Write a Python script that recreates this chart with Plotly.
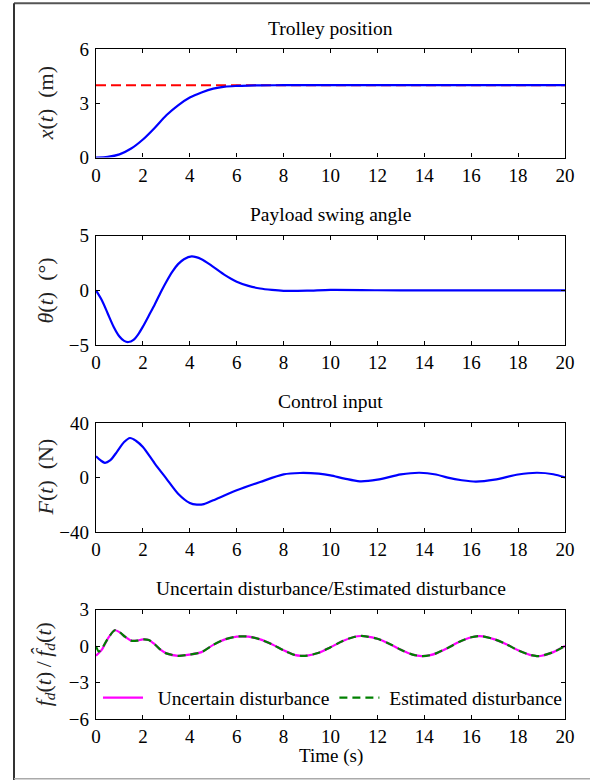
import plotly.graph_objects as go
from plotly.subplots import make_subplots

# ---------------- data ----------------
t_x = [0, 0.5, 1, 1.5, 2, 2.5, 3, 3.5, 4, 4.5, 5, 5.5, 6, 6.5, 7, 8, 10, 12, 14, 16, 18, 20]
x_pos = [0, 0.04, 0.18, 0.5, 1.0, 1.64, 2.34, 2.89, 3.32, 3.6, 3.81, 3.92, 3.96, 3.98, 3.99, 4.0, 4.0, 4.0, 4.0, 4.0, 4.0, 4.0]
x_ref_t = [0, 20]
x_ref = [4, 4]

t_th = [0, 0.25, 0.5, 0.75, 1.0, 1.2, 1.38, 1.6, 1.8, 2.0, 2.25, 2.5, 2.8, 3.0, 3.25, 3.5, 3.75, 4.08,
        4.5, 5.0, 5.5, 6.0, 6.5, 7.0, 7.5, 8.0, 9.0, 10.0, 12.0, 14.0, 16.0, 18.0, 20.0]
theta = [0, -0.9, -2.1, -3.3, -4.2, -4.6, -4.7, -4.5, -4.0, -3.3, -2.3, -1.3, 0.0, 0.8, 1.7, 2.4, 2.85, 3.1,
         2.85, 2.15, 1.4, 0.8, 0.42, 0.18, 0.05, -0.03, -0.02, 0.05, 0.02, 0.0, 0.01, 0.0, 0.0]

t_F = [0, 0.2, 0.38, 0.6, 0.9, 1.2, 1.45, 1.7, 2.0, 2.5, 3.0, 3.5, 4.0, 4.3, 4.6, 5.0, 6.0, 7.0, 8.0, 8.7,
       9.5, 10.0, 10.6, 11.25, 12.0, 13.0, 13.8, 14.5, 15.0, 15.6, 16.2, 17.0, 18.0, 18.8, 19.5, 20.0]
force = [15.6, 12.5, 10.8, 12.5, 19.0, 26.0, 29.0, 27.0, 22.4, 10.4, -0.8, -11.9, -18.7, -19.9, -19.5, -16.7, -9.4, -3.3, 2.3, 3.3,
         2.8, 1.6, -0.8, -2.8, -1.6, 2.3, 3.5, 2.2, -0.1, -2.0, -3.0, -1.6, 2.2, 3.5, 2.4, 0.0]

t_d = [0, 0.25, 0.5, 0.8, 1.0, 1.25, 1.5, 1.75, 2.0, 2.25, 2.5, 2.75, 3.0, 3.5, 4.0, 4.5, 5.0, 5.5, 6.0, 6.25,
       6.5, 7.0, 7.5, 8.0, 8.5, 8.75, 9.0, 9.5, 10.0, 10.5, 11.0, 11.3, 11.5, 12.0, 12.5, 13.0, 13.5, 13.9,
       14.25, 14.5, 15.0, 15.5, 16.0, 16.3, 16.5, 17.0, 17.5, 18.0, 18.5, 18.8, 19.0, 19.5, 20.0]
dist = [-0.8, -0.3, 0.6, 1.3, 1.15, 0.75, 0.45, 0.45, 0.55, 0.5, 0.15, -0.3, -0.6, -0.8, -0.7, -0.5, 0.1, 0.55, 0.78, 0.8,
        0.78, 0.55, 0.15, -0.35, -0.75, -0.8, -0.78, -0.55, -0.1, 0.4, 0.75, 0.83, 0.8, 0.6, 0.2, -0.3, -0.7, -0.82,
        -0.75, -0.6, -0.15, 0.35, 0.72, 0.82, 0.8, 0.55, 0.15, -0.35, -0.72, -0.82, -0.8, -0.5, 0.0]
t_e = [0, 0.12, 0.25] + t_d[2:]
est = [0.0, -0.45, -0.2] + dist[2:]

titles = ["Trolley position", "Payload swing angle", "Control input",
          "Uncertain disturbance/Estimated disturbance"]
ylabels = ["<i>x</i>(<i>t</i>)\u00a0\u00a0(m)", "<i>θ</i>(<i>t</i>)\u00a0\u00a0(°)", "<i>F</i>(<i>t</i>)\u00a0\u00a0(N)",
           "<i>f<sub>d</sub></i>(<i>t</i>)\u2009/\u2009<i>f\u0302<sub>d</sub></i>(<i>t</i>)"]
y_ranges = [[0, 6], [-5, 5], [-40, 40], [-6, 3]]
y_ticks = [[0, 3, 6], [-5, 0, 5], [-40, 0, 40], [-6, -3, 0, 3]]
x_ticks = list(range(0, 21, 2))
legend_names = ["\u00a0\u00a0Uncertain disturbance", "\u00a0Estimated disturbance"]

# ---------------- layout geometry (pixels) ----------------
W, H = 590, 780
L, R, T, B = 96, 565, 48.7, 718.7
panels = [(48.7, 157.3), (235.3, 345.0), (422.7, 531.7), (609.3, 718.7)]
ph = B - T
pw = R - L

def py(y):
    return (B - y) / ph

def px(x):
    return (x - L) / pw

FONT = "Liberation Serif, Times New Roman, DejaVu Serif, serif"

fig = make_subplots(rows=4, cols=1)

fig.add_trace(go.Scatter(x=x_ref_t, y=x_ref, mode="lines", line=dict(color="red", width=2, dash="10px,5px"),
                         showlegend=False), row=1, col=1)
fig.add_trace(go.Scatter(x=t_x, y=x_pos, mode="lines", line=dict(color="blue", width=2.2, shape="spline", smoothing=0.8),
                         showlegend=False), row=1, col=1)
fig.add_trace(go.Scatter(x=t_th, y=theta, mode="lines", line=dict(color="blue", width=2.2, shape="spline", smoothing=0.8),
                         showlegend=False), row=2, col=1)
fig.add_trace(go.Scatter(x=t_F, y=force, mode="lines", line=dict(color="blue", width=2.2, shape="spline", smoothing=0.8),
                         showlegend=False), row=3, col=1)
fig.add_trace(go.Scatter(x=t_d, y=dist, mode="lines", name=legend_names[0],
                         line=dict(color="magenta", width=2.2, shape="spline", smoothing=0.8)), row=4, col=1)
fig.add_trace(go.Scatter(x=t_e, y=est, mode="lines", name=legend_names[1],
                         line=dict(color="green", width=2.2, dash="8px,5px", shape="spline", smoothing=0.8)), row=4, col=1)

axis_common = dict(showline=True, linecolor="black", linewidth=1.4, mirror="ticks", ticks="inside",
                   ticklen=4, tickwidth=1, tickcolor="black", showgrid=False, zeroline=False,
                   tickfont=dict(family=FONT, size=19, color="black"))

for i, (top, bot) in enumerate(panels):
    r = i + 1
    fig.update_yaxes(range=y_ranges[i], tickvals=y_ticks[i], domain=[py(bot), py(top)], row=r, col=1,
                     ticklabelstandoff=2, **axis_common)
    fig.update_xaxes(range=[0, 20], tickvals=x_ticks, row=r, col=1, **axis_common)
    fig.add_annotation(text=titles[i], xref="paper", yref="paper", x=0.5, y=py(top - 21),
                       xanchor="center", yanchor="middle", showarrow=False,
                       font=dict(family=FONT, size=19.5, color="black"))
    fig.add_annotation(text=ylabels[i], xref="paper", yref="paper", x=px(45), y=py((top + bot) / 2),
                       xanchor="center", yanchor="middle", showarrow=False, textangle=-90,
                       font=dict(family=FONT, size=22, color="#222"))

fig.add_annotation(text="Time (s)", xref="paper", yref="paper", x=px(331), y=py(755.5),
                   xanchor="center", yanchor="middle", showarrow=False,
                   font=dict(family=FONT, size=19, color="black"))

# figure frame
fig.add_shape(type="line", xref="paper", yref="paper", x0=px(14), x1=px(592), y0=py(3), y1=py(3),
              line=dict(color="#555", width=2))
fig.add_shape(type="line", xref="paper", yref="paper", x0=px(14), x1=px(14), y0=py(3), y1=py(781),
              line=dict(color="#333", width=2))
fig.add_shape(type="line", xref="paper", yref="paper", x0=px(14), x1=px(592), y0=py(778.5), y1=py(778.5),
              line=dict(color="#aaa", width=1.5))

fig.update_layout(
    width=W, height=H,
    margin=dict(l=L, r=W - R, t=T, b=H - B, pad=0),
    paper_bgcolor="white", plot_bgcolor="white",
    font=dict(family=FONT, size=19, color="black"),
    legend=dict(orientation="h", x=px(98), y=py(697.7), xanchor="left", yanchor="middle",
                bgcolor="rgba(0,0,0,0)", font=dict(family=FONT, size=19.5, color="black"),
                itemwidth=40, tracegroupgap=0),
)

fig.write_html("out.html")
